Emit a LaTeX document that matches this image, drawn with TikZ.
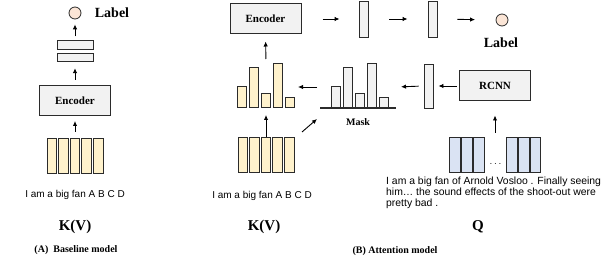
\documentclass[tikz,border=0pt]{standalone}
\usepackage{fontspec}
\setmainfont{Liberation Serif}
\setsansfont{Liberation Sans}
\usetikzlibrary{arrows.meta}

\definecolor{giallo}{HTML}{FFF2CC}
\definecolor{grigio}{HTML}{F2F2F2}
\definecolor{azzurro}{HTML}{DAE3F3}
\definecolor{pesca}{HTML}{FBE5D6}
\definecolor{bordo}{HTML}{2B2B2B}

\tikzset{
  blocco/.style={draw=bordo, line width=1pt, fill=grigio, minimum width=71pt, minimum height=30pt, font=\fontsize{11}{13}\selectfont\bfseries},
  cella/.style={draw=bordo, line width=1pt, inner sep=0pt, minimum width=9.6pt, minimum height=35pt},
  colonna/.style={draw=bordo, line width=0.9pt, fill=grigio, inner sep=0pt, minimum width=9pt},
  barra/.style={draw=bordo, line width=0.9pt, inner sep=0pt, minimum width=9pt, anchor=south, fill=#1},
  pallino/.style={circle, draw=bordo, line width=0.8pt, fill=pesca, inner sep=0pt, minimum size=12pt},
  freccia/.style={-{Latex[length=5pt,width=4.5pt]}, line width=0.9pt},
  frase/.style={font=\sffamily\fontsize{10}{11}\selectfont},
  titolo/.style={font=\fontsize{14}{16}\selectfont\bfseries},
  grande/.style={font=\fontsize{15}{17}\selectfont\bfseries},
  didascalia/.style={font=\fontsize{10}{12}\selectfont\bfseries},
}

\begin{document}
\begin{tikzpicture}[x=1pt, y=-1pt]
\useasboundingbox (0,0) rectangle (607,264);

% modello base
\begin{scope}
\foreach \i in {1,...,5}
  \node[cella, fill=giallo] (tA\i) at ({40.2+11.6*\i},156) {};
\node[blocco] (encA) at (75,100.5) {Encoder};
\node[colonna, minimum width=36pt, minimum height=8.5pt] (stA2) at (75,57.5) {};
\node[colonna, minimum width=36pt, minimum height=8.5pt] (stA1) at (75,45) {};
\node[pallino] (lblA) at (75,13) {};
\node[titolo] (labA) at (112,13) {Label};

\draw[freccia, shorten <=6pt, shorten >=5pt] (tA3.north) -- (encA.south);
\draw[freccia, shorten <=5pt, shorten >=6pt] (encA.north) -- (stA2.south);
\draw[freccia, shorten <=4pt, shorten >=5pt] (stA1.north) -- (lblA.south);

\node[frase] (fraseA) at (75,195) {I am a big fan A B C D};
\node[grande] (kvA) at (75,227) {K(V)};
\node[didascalia] (capA) at (76,250) {(A)~~Baseline model};
\end{scope}

% modello con attenzione
\begin{scope}
\foreach \i in {1,...,5}
  \node[cella, fill=giallo] (tB\i) at ({231.2+11.6*\i},155) {};
\foreach \h [count=\i] in {21,40,14,44,10} {
  \node[barra=giallo, minimum height=\h pt] (yB\i) at ({229.5+12*\i},108) {};
  \node[barra=grigio, minimum height=\h pt] (gB\i) at ({323.5+12*\i},108) {};
}
\draw[line width=1.2pt, bordo] (320,108) -- (396,108);
\node[font=\fontsize{10}{12}\selectfont\bfseries] (mask) at (358,122) {Mask};

\node[blocco] (encB) at (265.5,19) {Encoder};
\node[colonna, minimum height=36pt] (v1) at (363.5,19) {};
\node[colonna, minimum height=36pt] (v2) at (432.5,19) {};
\node[pallino] (lblB) at (502,20) {};
\node[titolo] (labB) at (501,43) {Label};

\node[colonna, minimum height=44pt] (v3) at (428.5,86) {};
\node[blocco] (rcnn) at (495,86) {RCNN};

\foreach \x [count=\i] in {455,467,479,512,524,535.5}
  \node[cella, fill=azzurro, minimum width=10.4pt] (qC\i) at (\x,155.5) {};
\node[inner sep=0pt] (puntini) at (495.5,164) {$\ldots$};

\coordinate (baseY) at (266,108);
\coordinate (cimaY) at (266,64);
\coordinate (gialloR) at (294,87);
\coordinate (maskL) at (320,87);
\coordinate (maskR) at (396,87);
\coordinate (diagA) at (302,132);
\coordinate (diagB) at (317,119);
\coordinate (qSu) at (495,137);

\draw[freccia, shorten >=7pt] (tB3.north) -- (baseY);
\draw[freccia, shorten <=5pt, shorten >=7pt] (cimaY) -- (encB.south);
\draw[freccia, shorten <=21pt, shorten >=19pt] (encB.east) -- (v1.west);
\draw[freccia, shorten <=21pt, shorten >=20pt] (v1.east) -- (v2.west);
\draw[freccia, shorten <=20pt, shorten >=20.5pt] (v2.east) -- (lblB.west);
\draw[freccia, shorten <=2.5pt, shorten >=5pt] (rcnn.west) -- (v3.east);
\draw[freccia, shorten <=5pt, shorten >=5pt] (v3.west) -- (maskR);
\draw[freccia, shorten <=3pt, shorten >=4pt] (maskL) -- (gialloR);
\draw[freccia] (diagA) -- (diagB);
\draw[freccia, shorten <=4pt, shorten >=14pt] (qSu) -- (rcnn.south);

\node[frase] (fraseB) at (262,196) {I am a big fan A B C D};
\node[frase, font=\sffamily\fontsize{10.4}{11}\selectfont, anchor=north west, align=left, inner sep=0pt] (testoQ) at (386,177)
  {I am a big fan of Arnold Vosloo . Finally seeing\\him… the sound effects of the shoot-out were\\pretty bad .};
\node[grande] (kvB) at (264,227) {K(V)};
\node[grande] (q) at (478,227) {Q};
\node[didascalia] (capB) at (395,251) {(B) Attention model};
\end{scope}

\end{tikzpicture}
\end{document}
